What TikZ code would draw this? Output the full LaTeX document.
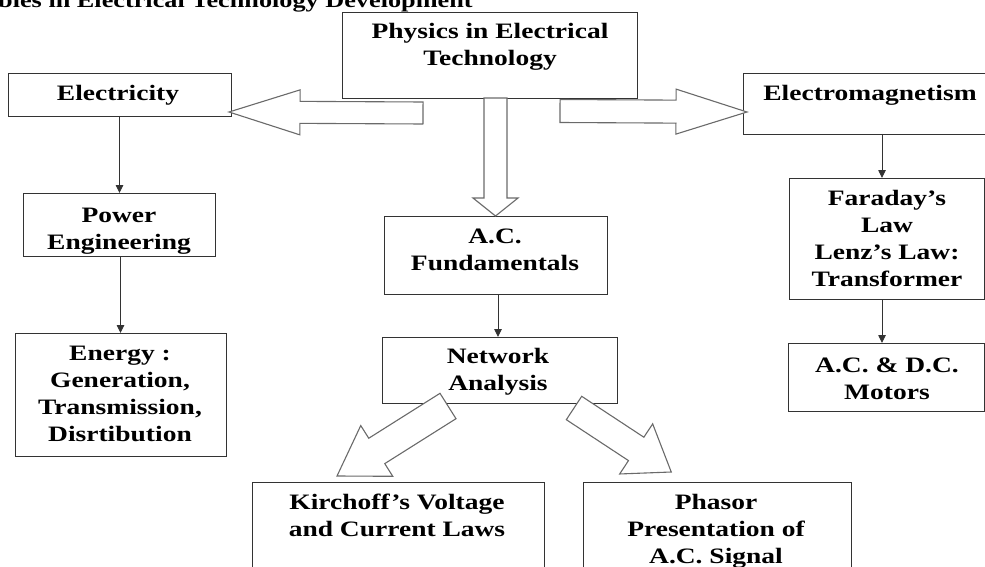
\documentclass[tikz,border=0pt]{standalone}
\usepackage{fontspec}
\setmainfont{Liberation Serif}[FakeStretch=1.25]
\usetikzlibrary{calc,arrows.meta}
\definecolor{boxc}{HTML}{333333}
\definecolor{arrc}{HTML}{6A6A6A}
\newcommand\fatarr[5]{%
  \coordinate (fa-h) at ($(#2)!#5!(#1)$);
  \draw[fat] ($(#1)!#3!90:(#2)$) -- ($(fa-h)!#3!90:(#2)$) -- ($(fa-h)!#4!90:(#2)$) -- (#2)
    -- ($(fa-h)!#4!-90:(#2)$) -- ($(fa-h)!#3!-90:(#2)$) -- ($(#1)!#3!-90:(#2)$) -- cycle;}
\tikzset{
  box/.style={draw=boxc, line width=0.9pt, inner sep=0pt, outer sep=0pt},
  lbl/.style={anchor=base, inner sep=0pt, outer sep=0pt, font=\fontsize{22}{27}\selectfont\bfseries},
  fat/.style={draw=arrc, line width=1.1pt, fill=white, line join=miter},
  thinarr/.style={draw=boxc, line width=0.9pt, -{Triangle[length=8pt,width=7.5pt]}}
}
\setlength{\tabcolsep}{0pt}
\begin{document}
\begin{tikzpicture}[x=1pt,y=-1pt]
\useasboundingbox (0,0) rectangle (985,567);
% title (cut off)
\node[anchor=base west, inner sep=0pt, font=\fontsize{21}{25}\selectfont\bfseries] (title) at (-2,8) {bles in Electrical Technology Development};
% boxes
\node[box, minimum width=295, minimum height=86] (phys) at (489.5,55) {};
\node[box, minimum width=223, minimum height=43] (elec) at (119.5,94.5) {};
\node[box, minimum width=254, minimum height=61] (em) at (870,103.5) {};
\node[box, minimum width=192, minimum height=63] (power) at (119,224.5) {};
\node[box, minimum width=211, minimum height=123] (energy) at (120.5,394.5) {};
\node[box, minimum width=223, minimum height=78] (ac) at (495.5,255) {};
\node[box, minimum width=235, minimum height=66] (net) at (499.5,370) {};
\node[box, minimum width=195, minimum height=121] (far) at (886.5,238.5) {};
\node[box, minimum width=196, minimum height=68] (mot) at (886,377) {};
\node[box, minimum width=292, minimum height=118] (kir) at (398,541) {};
\node[box, minimum width=267.5, minimum height=118] (pha) at (717.25,541) {};
% labels
\node[lbl] (phys-t) at (490,39) {\begin{tabular}[t]{c}Physics in Electrical\\Technology\end{tabular}};
\node[lbl] (elec-t) at (118,101) {Electricity};
\node[lbl] (em-t) at (870,101) {Electromagnetism};
\node[lbl] (power-t) at (119,222) {\begin{tabular}[t]{c}Power\\Engineering\end{tabular}};
\node[lbl] (energy-t) at (120,360) {\begin{tabular}[t]{c}Energy :\\Generation,\\Transmission,\\Disrtibution\end{tabular}};
\node[lbl] (ac-t) at (495,243) {\begin{tabular}[t]{c}A.C.\\Fundamentals\end{tabular}};
\node[lbl] (net-t) at (498,363) {\begin{tabular}[t]{c}Network\\Analysis\end{tabular}};
\node[lbl] (far-t) at (887,205) {\begin{tabular}[t]{c}Faraday’s\\Law\\Lenz’s Law:\\Transformer\end{tabular}};
\node[lbl] (mot-t) at (887,372) {\begin{tabular}[t]{c}A.C. \& D.C.\\Motors\end{tabular}};
\node[lbl] (kir-t) at (397,509) {\begin{tabular}[t]{c}Kirchoff’s Voltage\\and Current Laws\end{tabular}};
\node[lbl] (pha-t) at (716,509) {\begin{tabular}[t]{c}Phasor\\Presentation of\\A.C. Signal\end{tabular}};
% thin arrows
\draw[thinarr] (elec.south) -- (elec.south |- power.north);
\draw[thinarr] ([xshift=1.5]power.south) -- ([xshift=1.5]power.south |- energy.north);
\draw[thinarr] ([xshift=2.5]ac.south) -- ([xshift=2.5]ac.south |- net.north);
\draw[thinarr] ([xshift=-4.5]far.north |- em.south) -- ([xshift=-4.5]far.north);
\draw[thinarr] ([xshift=-4.5]far.south) -- ([xshift=-4.5]far.south |- mot.north);
% fat arrows
\coordinate (la-m) at ([shift={(-66.5,15)}]phys.south);
\coordinate (la-t) at ([shift={(-2,-4)}]elec.south east);
\fatarr{la-m}{la-t}{11pt}{22.5pt}{71pt}
\coordinate (ra-m) at ([shift={(70.5,13)}]phys.south);
\coordinate (ra-t) at ([shift={(4,8.5)}]em.west);
\fatarr{ra-m}{ra-t}{11.5pt}{22.5pt}{71pt}
\coordinate (da-m) at ([xshift=6]phys.south);
\coordinate (da-t) at (ac.north);
\fatarr{da-m}{da-t}{11.5pt}{22.5pt}{18pt}
\coordinate (ka-m) at ([shift={(-51.5,3)}]net.south);
\coordinate (ka-t) at ([shift={(-61,-6)}]kir.north);
\fatarr{ka-m}{ka-t}{15pt}{30pt}{47pt}
\coordinate (pa-m) at ([shift={(74.5,5)}]net.south);
\coordinate (pa-t) at ([shift={(-46,-10)}]pha.north);
\fatarr{pa-m}{pa-t}{14pt}{30pt}{42pt}
\end{tikzpicture}
\end{document}
